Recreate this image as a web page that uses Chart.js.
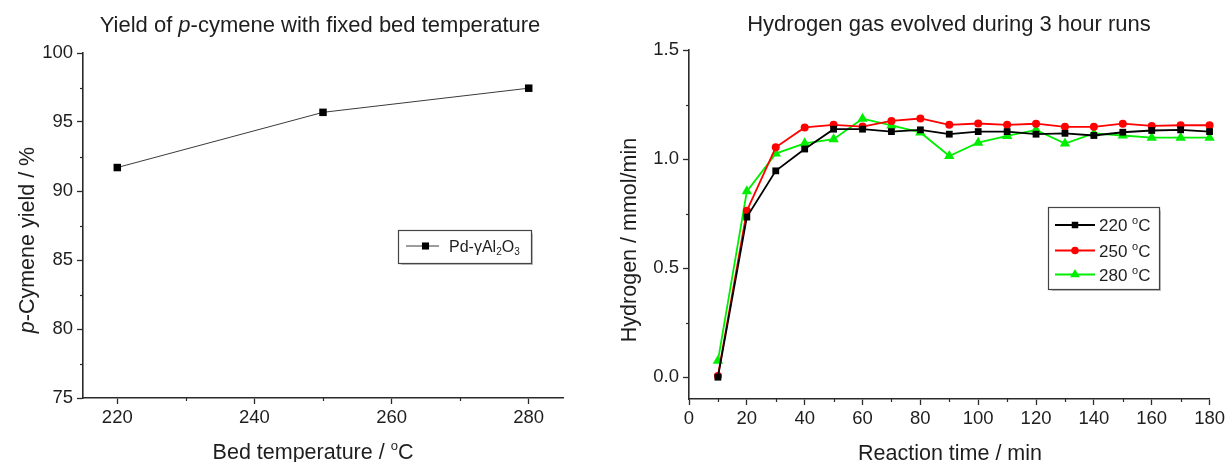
<!DOCTYPE html>
<html>
<head>
<meta charset="utf-8">
<script src="https://cdn.jsdelivr.net/npm/chart.js@4.4.1/dist/chart.umd.min.js"></script>
<style>
  html, body { margin: 0; padding: 0; background: #ffffff; }
  body { width: 1228px; height: 462px; position: relative; overflow: hidden; }
  .panel { position: absolute; top: 0; }
  #leftBox { left: 0; width: 600px; height: 462px; }
  #rightBox { left: 600px; width: 628px; height: 462px; }
</style>
</head>
<body>
<div class="panel" id="leftBox"><canvas id="leftChart" width="600" height="462"></canvas></div>
<div class="panel" id="rightBox"><canvas id="rightChart" width="628" height="462"></canvas></div>
<script>
// ---------------- DATA ----------------
const bedTemps = [220, 250, 280];
const cymeneYield = [91.7, 95.7, 97.45];
const leftXTicks = [220, 240, 260, 280];
const leftXMinor = [230, 250, 270];
const leftYTicks = [75, 80, 85, 90, 95, 100];
const leftYMinor = [77.5, 82.5, 87.5, 92.5, 97.5];

const reactionTime = [10, 20, 30, 40, 50, 60, 70, 80, 90, 100, 110, 120, 130, 140, 150, 160, 170, 180];
const h2at220 = [0.00, 0.734, 0.946, 1.046, 1.137, 1.137, 1.126, 1.134, 1.114, 1.126, 1.126, 1.114, 1.118, 1.108, 1.123, 1.131, 1.134, 1.126];
const h2at250 = [0.006, 0.763, 1.054, 1.145, 1.157, 1.149, 1.175, 1.186, 1.157, 1.163, 1.157, 1.162, 1.148, 1.148, 1.162, 1.152, 1.155, 1.155];
const h2at280 = [0.075, 0.852, 1.025, 1.072, 1.091, 1.185, 1.154, 1.122, 1.014, 1.075, 1.106, 1.134, 1.071, 1.118, 1.108, 1.098, 1.098, 1.098];
const rightXTicks = [0, 20, 40, 60, 80, 100, 120, 140, 160, 180];
const rightXMinor = [10, 30, 50, 70, 90, 110, 130, 150, 170];
const rightYTicks = [0, 0.5, 1.0, 1.5];
const rightYMinor = [0.25, 0.75, 1.25];

// ---------------- STYLE ----------------
const FAMILY = '"Liberation Sans", Arial, Helvetica, sans-serif';
const TXT = '#1e1e1e';
const AX = '#2a2a2a';
const TICK_FONT = 18.5;

function drawRich(ctx, segs, cx, cy, size, rot, align) {
  ctx.save();
  ctx.translate(cx, cy);
  ctx.rotate(rot || 0);
  ctx.fillStyle = TXT;
  ctx.textBaseline = 'alphabetic';
  ctx.textAlign = 'left';
  const fontOf = s => (s.i ? 'italic ' : '') + ((s.sup || s.sub) ? Math.round(size * 0.62) : size) + 'px ' + FAMILY;
  let total = 0;
  const widths = segs.map(s => { ctx.font = fontOf(s); const w = ctx.measureText(s.t).width; total += w; return w; });
  let x = align === 'left' ? 0 : -total / 2;
  const base = size * 0.36;
  segs.forEach((s, k) => {
    ctx.font = fontOf(s);
    const dy = s.sup ? -size * 0.40 : (s.sub ? size * 0.22 : 0);
    ctx.fillText(s.t, x, base + dy);
    x += widths[k];
  });
  ctx.restore();
}

function drawMarker(ctx, style, x, y, r, color) {
  ctx.save();
  ctx.fillStyle = color;
  ctx.beginPath();
  if (style === 'rect') {
    const s = r * Math.SQRT1_2;
    ctx.rect(x - s, y - s, 2 * s, 2 * s);
  } else if (style === 'circle') {
    ctx.arc(x, y, r, 0, Math.PI * 2);
  } else if (style === 'triangle') {
    ctx.moveTo(x, y - r);
    ctx.lineTo(x + r * 0.866, y + r * 0.5);
    ctx.lineTo(x - r * 0.866, y + r * 0.5);
    ctx.closePath();
  }
  ctx.fill();
  ctx.restore();
}

const decor = {
  id: 'decor',
  afterDraw(chart, args, opts) {
    const ctx = chart.ctx;
    // minor ticks
    Object.entries(opts.minor || {}).forEach(([id, vals]) => {
      const s = chart.scales[id];
      ctx.save();
      ctx.strokeStyle = AX;
      ctx.lineWidth = 1.2;
      vals.forEach(v => {
        const p = Math.round(s.getPixelForValue(v)) + 0.5;
        ctx.beginPath();
        if (s.isHorizontal()) { ctx.moveTo(p, s.top); ctx.lineTo(p, s.top + opts.minorLen); }
        else { ctx.moveTo(s.right, p); ctx.lineTo(s.right - opts.minorLen, p); }
        ctx.stroke();
      });
      ctx.restore();
    });
    // titles
    (opts.texts || []).forEach(t => drawRich(ctx, t.segs, t.x, t.y, t.size, t.rot || 0));
    // legend
    const lg = opts.legend;
    if (lg) {
      ctx.save();
      ctx.shadowColor = 'rgba(0,0,0,0.25)';
      ctx.shadowOffsetX = 1.5; ctx.shadowOffsetY = 1.5; ctx.shadowBlur = 1;
      ctx.fillStyle = '#ffffff';
      ctx.fillRect(lg.x, lg.y, lg.w, lg.h);
      ctx.restore();
      ctx.save();
      ctx.strokeStyle = '#444';
      ctx.lineWidth = 1.2;
      ctx.strokeRect(lg.x + 0.5, lg.y + 0.5, lg.w, lg.h);
      ctx.restore();
      chart.data.datasets.forEach((ds, k) => {
        const row = lg.rows[k];
        ctx.save();
        ctx.strokeStyle = ds.borderColor;
        ctx.lineWidth = lg.lineWidth;
        ctx.beginPath();
        ctx.moveTo(lg.lineX0, row.y); ctx.lineTo(lg.lineX1, row.y);
        ctx.stroke();
        ctx.restore();
        drawMarker(ctx, ds.pointStyle, lg.markX, row.y, lg.markR[k], ds.pointBackgroundColor);
        drawRich(ctx, row.segs, lg.textX, row.y, lg.size, 0, 'left');
      });
    }
  }
};

function tickFix(list) {
  return function (scale) { scale.ticks = list.map(v => ({ value: v })); };
}

function axis(opts) {
  return Object.assign({
    type: 'linear',
    border: { display: true, color: AX, width: 1.6 },
    grid: { display: true, drawOnChartArea: false, drawTicks: true, tickLength: 6, tickColor: AX, tickWidth: 1.3, color: AX },
  }, opts);
}

Chart.defaults.font.family = FAMILY;
Chart.defaults.color = TXT;

// ---------------- LEFT CHART ----------------
new Chart(document.getElementById('leftChart'), {
  type: 'line',
  data: {
    datasets: [{
      label: 'Pd-γAl₂O₃',
      data: bedTemps.map((t, i) => ({ x: t, y: cymeneYield[i] })),
      borderColor: '#3a3a3a',
      borderWidth: 1,
      pointStyle: 'rect',
      pointRadius: 5.3,
      pointBackgroundColor: '#000000',
      pointBorderColor: '#000000',
      pointBorderWidth: 0,
      tension: 0,
      clip: false
    }]
  },
  options: {
    responsive: false,
    animation: false,
    devicePixelRatio: 1,
    layout: { padding: { left: 0, top: 53, right: 37, bottom: 0 } },
    plugins: {
      legend: { display: false },
      tooltip: { enabled: false },
      decor: {
        minorLen: 3,
        minor: { x: leftXMinor, y: leftYMinor },
        texts: [
          { segs: [{ t: 'Yield of ' }, { t: 'p', i: true }, { t: '-cymene with fixed bed temperature' }], x: 320, y: 24, size: 22 },
          { segs: [{ t: 'Bed temperature / ' }, { t: 'o', sup: true }, { t: 'C' }], x: 313, y: 451, size: 21.5 },
          { segs: [{ t: 'p', i: true }, { t: '-Cymene yield / %' }], x: 26, y: 240, size: 21.5, rot: -Math.PI / 2 }
        ],
        legend: {
          x: 398, y: 230, w: 133, h: 33,
          lineX0: 406, lineX1: 439, markX: 425.5, textX: 449, size: 16, lineWidth: 1.2,
          markR: [5],
          rows: [{ y: 246, segs: [{ t: 'Pd-γAl' }, { t: '2', sub: true }, { t: 'O' }, { t: '3', sub: true }] }]
        }
      }
    },
    scales: {
      x: axis({
        min: 215, max: 285,
        afterBuildTicks: tickFix(leftXTicks),
        afterFit: s => { s.height = 64; },
        ticks: { font: { size: TICK_FONT }, color: TXT, padding: 3, maxRotation: 0, autoSkip: false, callback: v => String(v) }
      }),
      y: axis({
        min: 75, max: 100,
        afterBuildTicks: tickFix(leftYTicks),
        afterFit: s => { s.width = 83; },
        ticks: { font: { size: TICK_FONT }, color: TXT, padding: 4, autoSkip: false, callback: v => String(v) }
      })
    }
  },
  plugins: [decor]
});

// ---------------- RIGHT CHART ----------------
const series = [
  { label: '220 °C', values: h2at220, color: '#000000', style: 'rect', r: 4.8 },
  { label: '250 °C', values: h2at250, color: '#ff0000', style: 'circle', r: 4 },
  { label: '280 °C', values: h2at280, color: '#00ee00', style: 'triangle', r: 6 }
];

new Chart(document.getElementById('rightChart'), {
  type: 'line',
  data: {
    datasets: series.map(s => ({
      label: s.label,
      data: reactionTime.map((t, i) => ({ x: t, y: s.values[i] })),
      borderColor: s.color,
      borderWidth: 1.8,
      pointStyle: s.style,
      pointRadius: s.r,
      pointBackgroundColor: s.color,
      pointBorderColor: s.color,
      pointBorderWidth: 0,
      tension: 0,
      clip: false
    }))
  },
  options: {
    responsive: false,
    animation: false,
    devicePixelRatio: 1,
    layout: { padding: { left: 0, top: 50, right: 17, bottom: 0 } },
    plugins: {
      legend: { display: false },
      tooltip: { enabled: false },
      decor: {
        minorLen: 3,
        minor: { x: rightXMinor, y: rightYMinor },
        texts: [
          { segs: [{ t: 'Hydrogen gas evolved during 3 hour runs' }], x: 349, y: 23, size: 22 },
          { segs: [{ t: 'Reaction time / min' }], x: 350, y: 452, size: 21.5 },
          { segs: [{ t: 'Hydrogen / mmol/min' }], x: 28, y: 240, size: 21.5, rot: -Math.PI / 2 }
        ],
        legend: {
          x: 448, y: 207, w: 111, h: 82,
          lineX0: 455, lineX1: 495, markX: 475, textX: 499, size: 17, lineWidth: 1.8,
          markR: [4.6, 3.8, 5.6],
          rows: [
            { y: 225, segs: [{ t: '220 ' }, { t: 'o', sup: true }, { t: 'C' }] },
            { y: 250.5, segs: [{ t: '250 ' }, { t: 'o', sup: true }, { t: 'C' }] },
            { y: 274.5, segs: [{ t: '280 ' }, { t: 'o', sup: true }, { t: 'C' }] }
          ]
        }
      }
    },
    scales: {
      x: axis({
        min: 0, max: 180,
        afterBuildTicks: tickFix(rightXTicks),
        afterFit: s => { s.height = 63; },
        ticks: { font: { size: TICK_FONT }, color: TXT, padding: 3, maxRotation: 0, autoSkip: false, callback: v => String(v) }
      }),
      y: axis({
        min: -0.1, max: 1.5,
        afterBuildTicks: tickFix(rightYTicks),
        afterFit: s => { s.width = 89; },
        ticks: { font: { size: TICK_FONT }, color: TXT, padding: 4, autoSkip: false, callback: v => Number(v).toFixed(1) }
      })
    }
  },
  plugins: [decor]
});
</script>
</body>
</html>
